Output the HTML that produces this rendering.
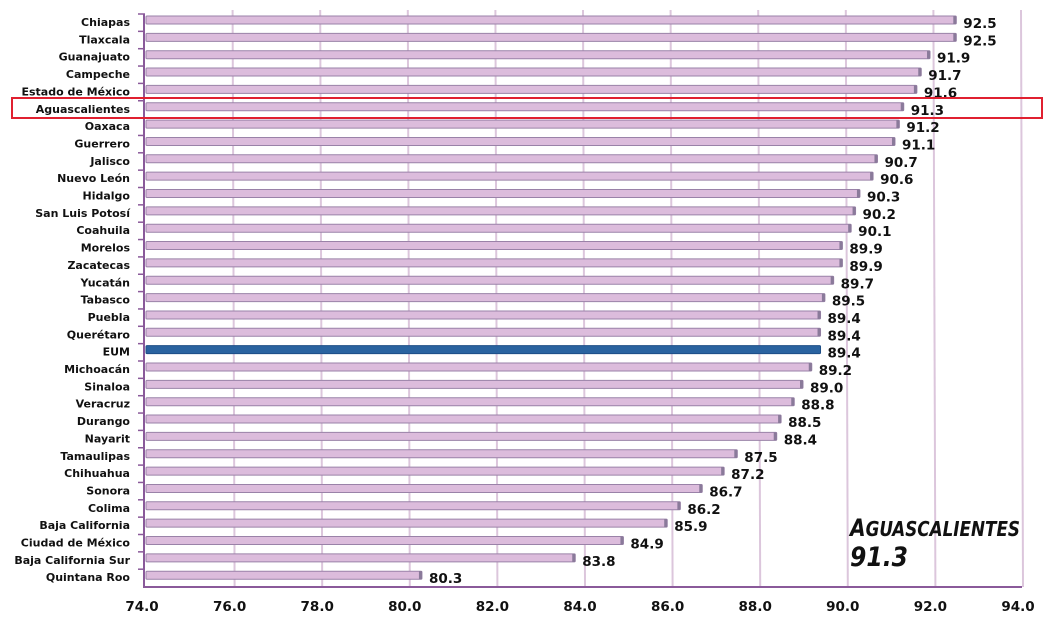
<!DOCTYPE html>
<html><head><meta charset="utf-8"><style>
body{margin:0;background:#fff}
svg{display:block}
</style></head><body>
<svg width="1056" height="628" xmlns="http://www.w3.org/2000/svg" font-family="'DejaVu Sans','Liberation Sans',sans-serif">
<rect width="1056" height="628" fill="#fff"/>
<script>
const data=[["Chiapas",92.5],["Tlaxcala",92.5],["Guanajuato",91.9],["Campeche",91.7],["Estado de México",91.6],["Aguascalientes",91.3],["Oaxaca",91.2],["Guerrero",91.1],["Jalisco",90.7],["Nuevo León",90.6],["Hidalgo",90.3],["San Luis Potosí",90.2],["Coahuila",90.1],["Morelos",89.9],["Zacatecas",89.9],["Yucatán",89.7],["Tabasco",89.5],["Puebla",89.4],["Querétaro",89.4],["EUM",89.4],["Michoacán",89.2],["Sinaloa",89.0],["Veracruz",88.8],["Durango",88.5],["Nayarit",88.4],["Tamaulipas",87.5],["Chihuahua",87.2],["Sonora",86.7],["Colima",86.2],["Baja California",85.9],["Ciudad de México",84.9],["Baja California Sur",83.8],["Quintana Roo",80.3]];
const NS="http://www.w3.org/2000/svg";
const X=v=>146+(v-74)*43.8;
const svg=document.querySelector("svg");
function el(t,a,txt){const e=document.createElementNS(NS,t);for(const k in a)e.setAttribute(k,a[k]);if(txt!=null)e.textContent=txt;svg.appendChild(e);return e;}
for(let v=76;v<=94;v+=2){el("line",{x1:X(v)-1,x2:X(v)+1,y1:10,y2:587,stroke:"#dcc6dc","stroke-width":2});}
data.forEach((d,i)=>{
 const cy=22+i*17.35;
 const isE=d[0]=="EUM";
 el("line",{x1:138,x2:145,y1:cy-8,y2:cy-8,stroke:"#8a5a9a","stroke-width":1.5});
 el("rect",{x:146,y:cy-6,width:X(d[1])-146,height:8,fill:isE?"#2a63a0":"#dcbcdc",stroke:isE?"#1e4e86":"#9a82a8","stroke-width":1,rx:1});
 if(!isE)el("rect",{x:X(d[1])-3,y:cy-6,width:3,height:8,fill:"#8a7a9a"});
 el("text",{x:130,y:cy+4,"text-anchor":"end","font-size":11,"font-weight":"bold",fill:"#111"},d[0]);
 el("text",{x:X(d[1])+7,y:cy+6,"font-size":13.5,"font-weight":"bold",fill:"#111"},d[1].toFixed(1));
});
el("line",{x1:144,x2:144,y1:14,y2:588,stroke:"#8a5a9a","stroke-width":2});
el("line",{x1:144,x2:1022,y1:587,y2:587,stroke:"#8a5a9a","stroke-width":2});
for(let v=74;v<=94;v+=2){el("text",{x:X(v)-4,y:611,"text-anchor":"middle","font-size":13.5,"font-weight":"bold",fill:"#111"},v.toFixed(1));}
el("rect",{x:12,y:98,width:1030,height:20,fill:"none",stroke:"#e02030","stroke-width":2});
const t=el("text",{x:850,y:536,"font-size":20,"font-weight":"bold","font-style":"italic",fill:"#111",textLength:170,lengthAdjust:"spacingAndGlyphs"});
const a=document.createElementNS(NS,"tspan");a.setAttribute("font-size","24");a.textContent="A";t.appendChild(a);
const b=document.createElementNS(NS,"tspan");b.textContent="GUASCALIENTES";t.appendChild(b);
el("text",{x:850,y:566,"font-size":27,"font-weight":"bold","font-style":"italic",fill:"#111",textLength:58,lengthAdjust:"spacingAndGlyphs"},"91.3");
</script>
</svg>
</body></html>
